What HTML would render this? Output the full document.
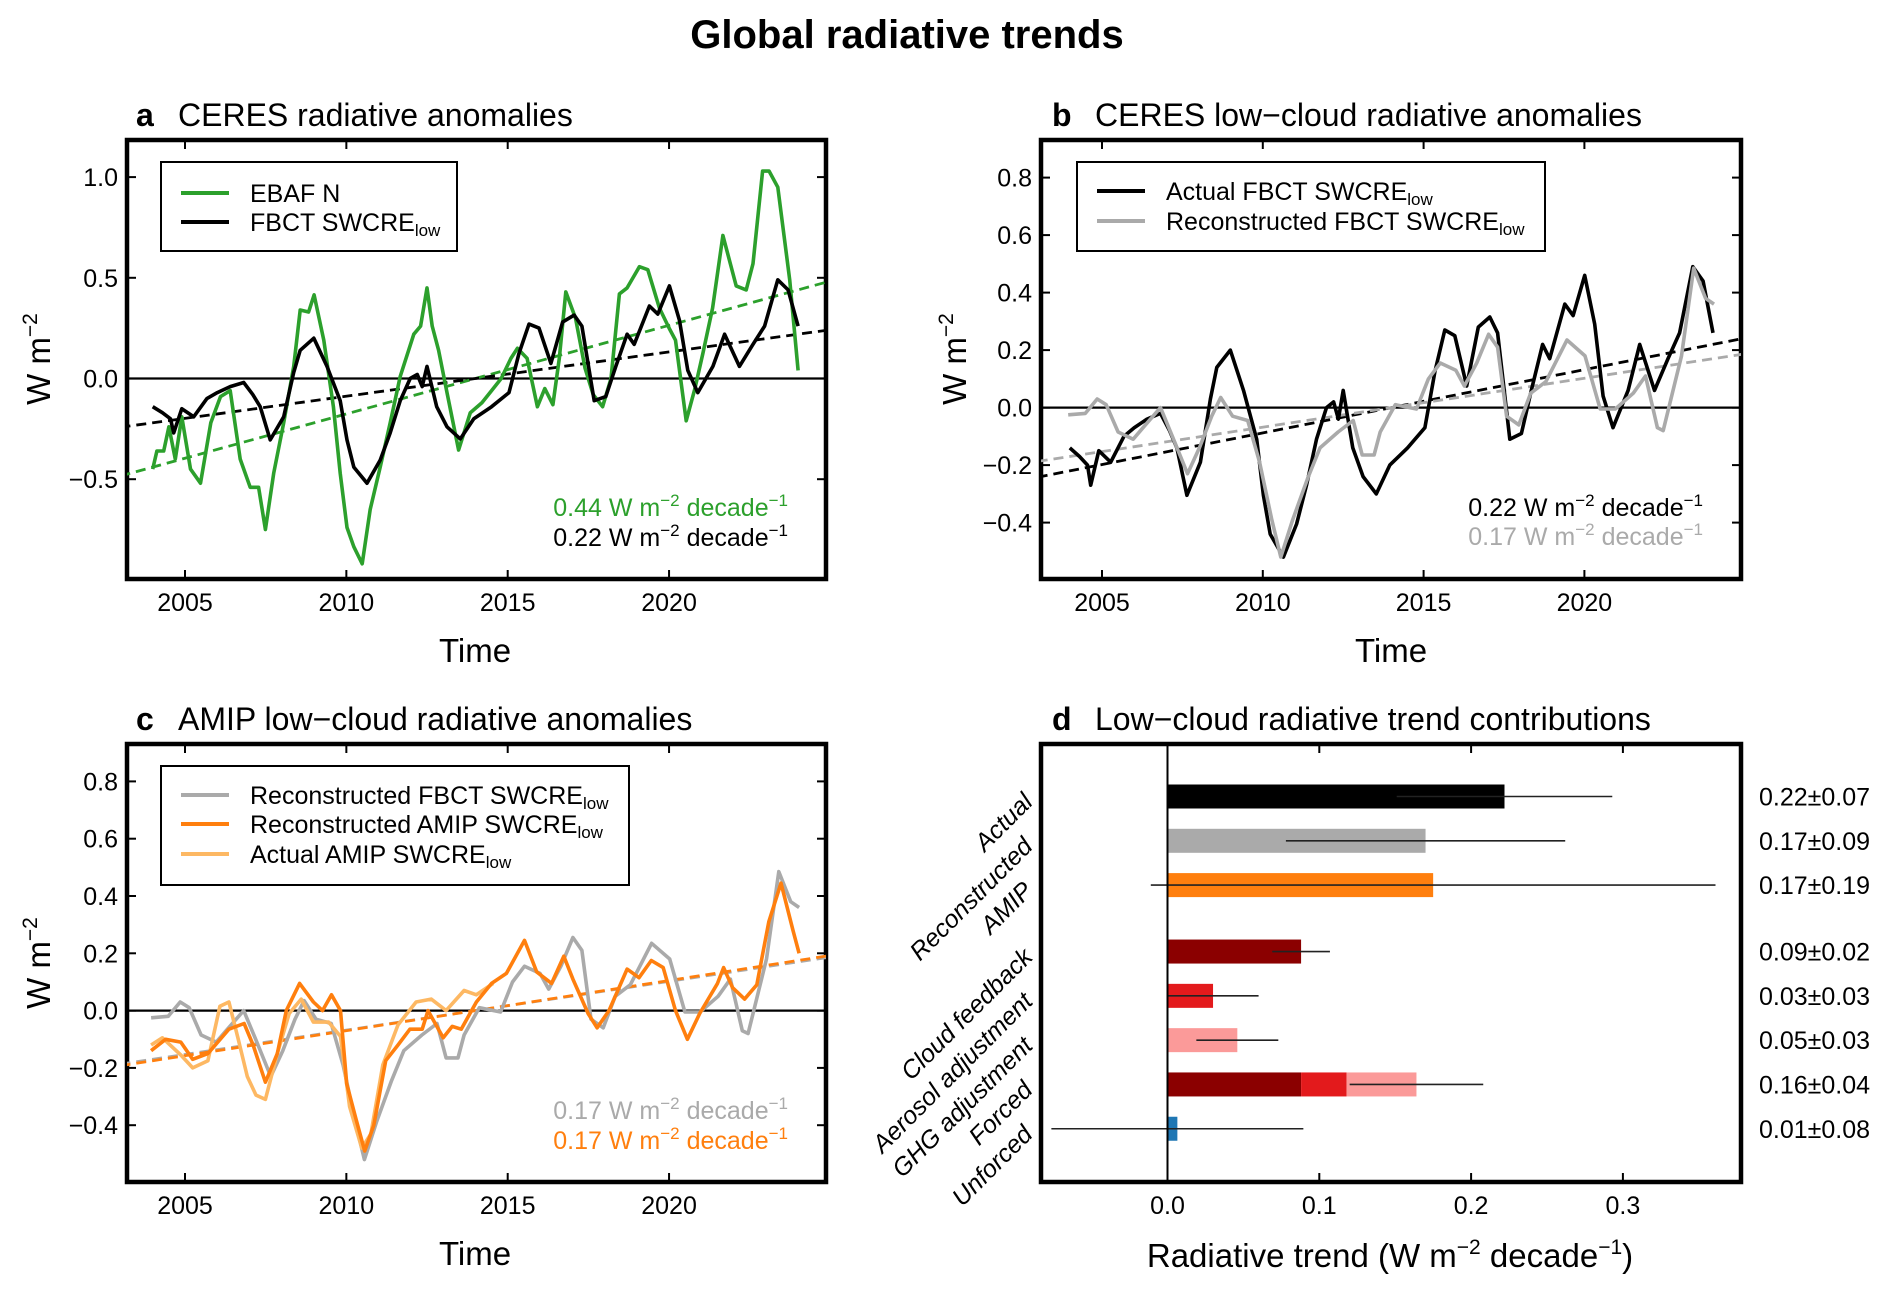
<!DOCTYPE html>
<html><head><meta charset="utf-8">
<style>
html,body{margin:0;padding:0;background:#fff;}
svg{display:block;font-family:"Liberation Sans",Arial,sans-serif;}
</style></head>
<body>
<svg id="fig" width="1892" height="1295" viewBox="0 0 1892 1295" xmlns="http://www.w3.org/2000/svg">
<defs>
<clipPath id="clipA"><rect x="127" y="140" width="699" height="439"/></clipPath>
<clipPath id="clipB"><rect x="1041" y="140" width="700" height="439"/></clipPath>
<clipPath id="clipC"><rect x="127" y="744" width="699" height="438"/></clipPath>
<clipPath id="clipD"><rect x="1041" y="744" width="700" height="438"/></clipPath>
</defs>
<text x="907" y="48" text-anchor="middle" font-size="40" font-weight="bold">Global radiative trends</text>

<!-- panel titles -->
<text x="136" y="126" font-size="32" font-weight="bold">a</text>
<text x="178" y="126" font-size="32">CERES radiative anomalies</text>
<text x="1052" y="126" font-size="32" font-weight="bold">b</text>
<text x="1095" y="126" font-size="32">CERES low−cloud radiative anomalies</text>
<text x="136" y="730" font-size="32" font-weight="bold">c</text>
<text x="178" y="730" font-size="32">AMIP low−cloud radiative anomalies</text>
<text x="1052" y="730" font-size="32" font-weight="bold">d</text>
<text x="1095" y="730" font-size="32">Low−cloud radiative trend contributions</text>

<!-- axis titles -->
<text x="475" y="662" text-anchor="middle" font-size="33">Time</text>
<text x="1391" y="662" text-anchor="middle" font-size="33">Time</text>
<text x="475" y="1265" text-anchor="middle" font-size="33">Time</text>
<text x="1390" y="1267" text-anchor="middle" font-size="33">Radiative trend (W m<tspan dy="-13" font-size="21">−2</tspan><tspan dy="13"> decade</tspan><tspan dy="-13" font-size="21">−1</tspan><tspan dy="13">)</tspan></text>
<text transform="translate(50,359) rotate(-90)" text-anchor="middle" font-size="33">W m<tspan dy="-13" font-size="21">−2</tspan></text>
<text transform="translate(966,359) rotate(-90)" text-anchor="middle" font-size="33">W m<tspan dy="-13" font-size="21">−2</tspan></text>
<text transform="translate(50,963) rotate(-90)" text-anchor="middle" font-size="33">W m<tspan dy="-13" font-size="21">−2</tspan></text>

<!-- trend annotations -->
<text x="788" y="516" text-anchor="end" font-size="25" fill="#2ca02c">0.44 W m<tspan dy="-10" font-size="17">−2</tspan><tspan dy="10"> decade</tspan><tspan dy="-10" font-size="17">−1</tspan></text>
<text x="788" y="546" text-anchor="end" font-size="25" fill="#000">0.22 W m<tspan dy="-10" font-size="17">−2</tspan><tspan dy="10"> decade</tspan><tspan dy="-10" font-size="17">−1</tspan></text>
<text x="1703" y="516" text-anchor="end" font-size="25" fill="#000">0.22 W m<tspan dy="-10" font-size="17">−2</tspan><tspan dy="10"> decade</tspan><tspan dy="-10" font-size="17">−1</tspan></text>
<text x="1703" y="545" text-anchor="end" font-size="25" fill="#aaaaaa">0.17 W m<tspan dy="-10" font-size="17">−2</tspan><tspan dy="10"> decade</tspan><tspan dy="-10" font-size="17">−1</tspan></text>
<text x="788" y="1119" text-anchor="end" font-size="25" fill="#aaaaaa">0.17 W m<tspan dy="-10" font-size="17">−2</tspan><tspan dy="10"> decade</tspan><tspan dy="-10" font-size="17">−1</tspan></text>
<text x="788" y="1149" text-anchor="end" font-size="25" fill="#ff7f0e">0.17 W m<tspan dy="-10" font-size="17">−2</tspan><tspan dy="10"> decade</tspan><tspan dy="-10" font-size="17">−1</tspan></text>

<g id="marks"></g>

<!-- legends -->
<g>
<rect x="161" y="162" width="296" height="89" fill="#fff" stroke="#000" stroke-width="2"/>
<line x1="181" y1="193" x2="229" y2="193" stroke="#2ca02c" stroke-width="4"/>
<text x="250" y="202" font-size="25">EBAF N</text>
<line x1="181" y1="222" x2="229" y2="222" stroke="#000" stroke-width="4"/>
<text x="250" y="231" font-size="25">FBCT SWCRE<tspan dy="5" font-size="17">low</tspan></text>
</g>
<g>
<rect x="1077" y="162" width="468" height="89" fill="#fff" stroke="#000" stroke-width="2"/>
<line x1="1097" y1="191" x2="1145" y2="191" stroke="#000" stroke-width="4"/>
<text x="1166" y="200" font-size="25">Actual FBCT SWCRE<tspan dy="5" font-size="17">low</tspan></text>
<line x1="1097" y1="221" x2="1145" y2="221" stroke="#aaaaaa" stroke-width="4"/>
<text x="1166" y="230" font-size="25">Reconstructed FBCT SWCRE<tspan dy="5" font-size="17">low</tspan></text>
</g>
<g>
<rect x="161" y="766" width="468" height="119" fill="#fff" stroke="#000" stroke-width="2"/>
<line x1="181" y1="795" x2="229" y2="795" stroke="#aaaaaa" stroke-width="4"/>
<text x="250" y="804" font-size="25">Reconstructed FBCT SWCRE<tspan dy="5" font-size="17">low</tspan></text>
<line x1="181" y1="824" x2="229" y2="824" stroke="#ff7f0e" stroke-width="4"/>
<text x="250" y="833" font-size="25">Reconstructed AMIP SWCRE<tspan dy="5" font-size="17">low</tspan></text>
<line x1="181" y1="854" x2="229" y2="854" stroke="#fdb863" stroke-width="4"/>
<text x="250" y="863" font-size="25">Actual AMIP SWCRE<tspan dy="5" font-size="17">low</tspan></text>
</g>
</svg>

<script>
// ---------- data ----------
const fbctYears = [2004.0,2004.3,2004.55,2004.65,2004.9,2005.27,2005.68,2006.0,2006.4,2006.82,
 2007.1,2007.33,2007.64,2008.06,2008.37,2008.57,2008.99,2009.4,2009.81,2010.02,
 2010.23,2010.64,2011.05,2011.36,2011.67,2011.98,2012.2,2012.35,2012.5,2012.8,
 2013.12,2013.53,2013.95,2014.5,2015.04,2015.35,2015.66,2015.97,2016.34,2016.7,
 2017.06,2017.3,2017.68,2018.04,2018.35,2018.7,2018.92,2019.39,2019.65,2020.01,
 2020.32,2020.58,2020.89,2021.36,2021.72,2022.18,2022.6,2022.96,2023.37,2023.69,2024.0];
const fbctValues = [-0.14,-0.17,-0.2,-0.27,-0.15,-0.19,-0.1,-0.07,-0.04,-0.02,
 -0.08,-0.14,-0.305,-0.19,0.03,0.14,0.2,0.06,-0.11,-0.305,
 -0.44,-0.52,-0.405,-0.27,-0.11,0.0,0.02,-0.04,0.06,-0.14,
 -0.24,-0.3,-0.2,-0.14,-0.07,0.125,0.27,0.25,0.075,0.28,
 0.315,0.26,-0.11,-0.09,0.06,0.22,0.17,0.36,0.32,0.46,
 0.29,0.04,-0.07,0.06,0.22,0.06,0.17,0.26,0.49,0.44,0.26];

const ebafYears = [2004.0,2004.13,2004.34,2004.5,2004.7,2004.9,2005.17,2005.48,2005.8,2006.1,
 2006.4,2006.71,2007.02,2007.28,2007.49,2007.75,2008.06,2008.37,2008.57,2008.83,
 2009.0,2009.3,2009.6,2009.81,2010.02,2010.23,2010.49,2010.74,2011.05,2011.36,
 2011.67,2012.09,2012.3,2012.5,2012.66,2012.86,2013.12,2013.48,2013.84,2014.2,
 2014.5,2014.8,2015.1,2015.3,2015.6,2015.92,2016.15,2016.4,2016.6,2016.8,
 2017.1,2017.4,2017.65,2017.94,2018.2,2018.46,2018.7,2019.08,2019.34,2019.7,
 2020.0,2020.2,2020.53,2020.8,2021.05,2021.35,2021.67,2022.08,2022.39,2022.6,
 2022.9,2023.1,2023.37,2023.74,2024.0];
const ebafValues = [-0.45,-0.36,-0.36,-0.24,-0.4,-0.19,-0.45,-0.52,-0.22,-0.09,
 -0.06,-0.4,-0.54,-0.54,-0.75,-0.47,-0.22,0.06,0.34,0.33,
 0.415,0.19,-0.14,-0.47,-0.74,-0.835,-0.92,-0.65,-0.44,-0.22,
 0.01,0.22,0.26,0.45,0.26,0.14,-0.07,-0.355,-0.17,-0.12,
 -0.06,0.0,0.1,0.15,0.1,-0.14,-0.05,-0.13,0.1,0.43,
 0.3,0.05,-0.08,-0.14,0.0,0.42,0.45,0.555,0.54,0.35,
 0.25,0.19,-0.21,-0.05,0.125,0.35,0.71,0.46,0.44,0.57,
 1.03,1.03,0.95,0.49,0.04];

const reconYears = [2003.95,2004.48,2004.85,2005.13,2005.5,2005.97,2006.35,2006.82,2007.19,2007.66,
 2008.03,2008.41,2008.69,2009.06,2009.53,2009.9,2010.28,2010.56,2010.93,2011.4,
 2011.78,2012.34,2012.81,2013.09,2013.46,2013.65,2014.12,2014.78,2015.15,2015.52,
 2016.0,2016.27,2016.65,2017.02,2017.3,2017.58,2017.96,2018.33,2018.8,2019.46,
 2020.02,2020.49,2020.96,2021.52,2021.9,2022.27,2022.45,2023.02,2023.4,2023.77,2024.03];
const reconValues = [-0.025,-0.02,0.03,0.01,-0.085,-0.11,-0.06,0.0,-0.1,-0.23,
 -0.14,-0.03,0.035,-0.03,-0.045,-0.19,-0.39,-0.52,-0.39,-0.245,
 -0.14,-0.085,-0.045,-0.165,-0.165,-0.085,0.01,-0.005,0.1,0.155,
 0.13,0.075,0.155,0.255,0.21,-0.03,-0.06,0.05,0.09,0.235,
 0.18,-0.005,-0.005,0.05,0.11,-0.07,-0.08,0.18,0.485,0.38,0.36];

const amipReconYears = [2003.95,2004.4,2004.87,2005.24,2005.71,2006.36,2006.83,2007.11,2007.49,2007.86,
 2008.14,2008.55,2008.98,2009.26,2009.54,2009.82,2010.01,2010.29,2010.57,2010.85,
 2011.22,2011.6,2011.97,2012.35,2012.53,2013.0,2013.28,2013.56,2014.03,2014.5,
 2014.96,2015.52,2015.9,2016.36,2016.74,2017.02,2017.49,2017.77,2018.14,2018.7,
 2019.07,2019.45,2019.82,2020.2,2020.57,2020.95,2021.5,2021.69,2021.97,2022.34,
 2022.72,2023.09,2023.47,2023.84,2024.03];
const amipReconValues = [-0.14,-0.1,-0.11,-0.17,-0.15,-0.065,-0.045,-0.12,-0.25,-0.15,
 0.0,0.095,0.03,0.0,0.055,0.0,-0.255,-0.375,-0.49,-0.4,
 -0.175,-0.12,-0.065,-0.065,0.0,-0.095,-0.055,-0.065,0.03,0.095,
 0.13,0.245,0.135,0.095,0.19,0.11,-0.01,-0.06,0.0,0.145,
 0.115,0.175,0.15,0.0,-0.1,-0.01,0.095,0.15,0.08,0.04,
 0.09,0.31,0.445,0.28,0.2];

const amipActualYears = [2003.95,2004.3,2004.87,2005.24,2005.71,2006.08,2006.36,2006.64,2006.93,2007.2,
 2007.49,2007.86,2008.23,2008.6,2008.98,2009.45,2009.82,2010.1,2010.48,2010.76,
 2011.13,2011.6,2012.16,2012.63,2013.09,2013.65,2014.03,2014.55];
const amipActualValues = [-0.12,-0.095,-0.155,-0.2,-0.175,0.015,0.03,-0.095,-0.23,-0.295,
 -0.31,-0.15,-0.01,0.04,-0.04,-0.04,-0.09,-0.335,-0.48,-0.43,
 -0.19,-0.05,0.03,0.04,0.0,0.07,0.055,0.095];

// trend slopes (W m-2 per year), centred on 2014
const trendSlopes = {ebaf:0.044, fbct:0.022, recon:0.017, amip:0.0175};

// panel d
const dCategories = ["Actual","Reconstructed","AMIP","Cloud feedback","Aerosol adjustment","GHG adjustment","Forced","Unforced"];
const dValues = [0.222,0.170,0.175,0.088,0.030,0.046,0.164,0.0065];
const dErrors = [0.071,0.092,0.186,0.019,0.030,0.027,0.044,0.083];
const dLabels = ["0.22±0.07","0.17±0.09","0.17±0.19","0.09±0.02","0.03±0.03","0.05±0.03","0.16±0.04","0.01±0.08"];
const dColors = ["#000000","#aaaaaa","#ff7f0e","#8b0000","#e31a1c","#fb9a99",null,"#1f77b4"];
const dTicks = [0.0,0.1,0.2,0.3];
const yTicksA = [-0.5,0.0,0.5,1.0];
const yTicksBC = [-0.4,-0.2,0.0,0.2,0.4,0.6,0.8];
const xTicksYears = [2005,2010,2015,2020];

// ---------- drawing ----------
const NS = "http://www.w3.org/2000/svg";
const root = document.getElementById("marks");
function mk(tag, attrs, parent){
  const e = document.createElementNS(NS, tag);
  for (const k in attrs) e.setAttribute(k, attrs[k]);
  (parent||root).appendChild(e);
  return e;
}
function fmt(v){ const s=v.toFixed(1); return v<0 ? "−"+s.slice(1) : s; }

const panels = {
  a:{L:127,T:140,R:826,B:579,x2005:185,py:32.27,y0:378.5,ky:201.4,clip:"clipA",yt:yTicksA},
  b:{L:1041,T:140,R:1741,B:579,x2005:1102,py:32.16,y0:407.6,ky:287.5,clip:"clipB",yt:yTicksBC},
  c:{L:127,T:744,R:826,B:1182,x2005:185,py:32.27,y0:1010.6,ky:286.5,clip:"clipC",yt:yTicksBC}
};
function X(p,t){ return p.x2005 + (t-2005)*p.py; }
function Y(p,v){ return p.y0 - v*p.ky; }

function series(p, ys, vs, color, name, w){
  const n = Math.min(ys.length, vs.length);
  let d = "";
  for (let i=0;i<n;i++) d += (i?"L":"M") + X(p,ys[i]).toFixed(1) + "," + Y(p,vs[i]).toFixed(1);
  const e = mk("path",{d:d,fill:"none",stroke:color,"stroke-width":w||3.6,"stroke-linejoin":"round","clip-path":"url(#"+p.clip+")"});
  
  
}
function trend(p, slope, color, name){
  const t0 = 2003.0, t1 = 2025.0;
  const e = mk("line",{x1:X(p,t0),y1:Y(p,slope*(t0-2014)),x2:X(p,t1),y2:Y(p,slope*(t1-2014)),stroke:color,"stroke-width":2.8,"stroke-dasharray":"10,6","clip-path":"url(#"+p.clip+")"});
  
  
}
function frame(key){
  const p = panels[key];
  const z = mk("line",{x1:p.L,y1:Y(p,0),x2:p.R,y2:Y(p,0),stroke:"#000","stroke-width":2.2});
  
  
  for (const t of xTicksYears){
    const x = X(p,t);
    mk("line",{x1:x,y1:p.T,x2:x,y2:p.T+9,stroke:"#000","stroke-width":2});
    mk("line",{x1:x,y1:p.B,x2:x,y2:p.B-9,stroke:"#000","stroke-width":2});
    const lb = mk("text",{x:x,y:p.B+32,"text-anchor":"middle","font-size":25});
    lb.textContent = t;
    
    
  }
  for (const v of p.yt){
    const y = Y(p,v);
    mk("line",{x1:p.L,y1:y,x2:p.L+9,y2:y,stroke:"#000","stroke-width":2});
    mk("line",{x1:p.R,y1:y,x2:p.R-9,y2:y,stroke:"#000","stroke-width":2});
    const lb = mk("text",{x:p.L-9,y:y+9,"text-anchor":"end","font-size":25});
    lb.textContent = fmt(v);
    
    
  }
  const r = mk("rect",{x:p.L,y:p.T,width:p.R-p.L,height:p.B-p.T,fill:"none",stroke:"#000","stroke-width":4.5});
  
  
}

// panel a
frame("a");
trend(panels.a, trendSlopes.ebaf, "#2ca02c", "panel-a-ebaf-trend-line");
trend(panels.a, trendSlopes.fbct, "#000", "panel-a-fbct-trend-line");
series(panels.a, ebafYears, ebafValues, "#2ca02c", "panel-a-ebaf-n-line");
series(panels.a, fbctYears, fbctValues, "#000", "panel-a-fbct-swcre-line");

// panel b
frame("b");
trend(panels.b, trendSlopes.fbct, "#000", "panel-b-actual-trend-line");
trend(panels.b, trendSlopes.recon, "#aaaaaa", "panel-b-reconstructed-trend-line");
series(panels.b, fbctYears, fbctValues, "#000", "panel-b-actual-fbct-line");
series(panels.b, reconYears, reconValues, "#aaaaaa", "panel-b-reconstructed-fbct-line");

// panel c
frame("c");
trend(panels.c, trendSlopes.recon, "#aaaaaa", "panel-c-reconstructed-fbct-trend-line");
trend(panels.c, trendSlopes.amip, "#ff7f0e", "panel-c-amip-trend-line");
series(panels.c, reconYears, reconValues, "#aaaaaa", "panel-c-reconstructed-fbct-line");
series(panels.c, amipActualYears, amipActualValues, "#fdb863", "panel-c-actual-amip-line");
series(panels.c, amipReconYears, amipReconValues, "#ff7f0e", "panel-c-reconstructed-amip-line");

// panel d
(function(){
  const L=1041,T=744,R=1741,B=1182, x0=1167.5, kx=1518;
  const DX = v => x0 + v*kx;
  const rowY = i => 796.5 + (i<3 ? i : i+0.5)*44.3;
  const bh = 24;
  for (let i=0;i<dCategories.length;i++){
    const y = rowY(i);
    if (dColors[i]){
      const b = mk("rect",{x:Math.min(DX(0),DX(dValues[i])),y:y-bh/2,width:Math.abs(DX(dValues[i])-DX(0)),height:bh,fill:dColors[i]});
      
      
    } else {
      let acc = 0;
      for (const j of [3,4,5]){
        const b = mk("rect",{x:DX(acc),y:y-bh/2,width:DX(acc+dValues[j])-DX(acc),height:bh,fill:dColors[j]});
        
        
        acc += dValues[j];
      }
    }
    const e = mk("line",{x1:DX(dValues[i]-dErrors[i]),y1:y,x2:DX(dValues[i]+dErrors[i]),y2:y,stroke:"#222","stroke-width":1.6});
    
    
    const lb = mk("text",{x:1759,y:y+9,"font-size":25});
    lb.textContent = dLabels[i];
    
    
    const cl = mk("text",{transform:"translate(1034,"+(y+7)+") rotate(-45)","text-anchor":"end","font-size":25,"font-style":"italic"});
    cl.textContent = dCategories[i];
    
    
  }
  const z = mk("line",{x1:DX(0),y1:T,x2:DX(0),y2:B,stroke:"#000","stroke-width":2});
  
  
  for (const t of dTicks){
    const x = DX(t);
    mk("line",{x1:x,y1:T,x2:x,y2:T+9,stroke:"#000","stroke-width":2});
    mk("line",{x1:x,y1:B,x2:x,y2:B-9,stroke:"#000","stroke-width":2});
    const lb = mk("text",{x:x,y:B+32,"text-anchor":"middle","font-size":25});
    lb.textContent = t.toFixed(1);
    
    
  }
  const r = mk("rect",{x:L,y:T,width:R-L,height:B-T,fill:"none",stroke:"#000","stroke-width":4.5});
  
  
})();
</script>
</body></html>
